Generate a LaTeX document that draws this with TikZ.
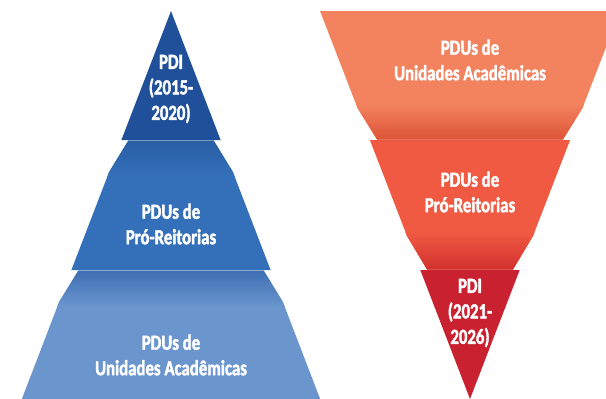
\documentclass[tikz,border=0pt]{standalone}
\usepackage{fontspec}
\setmainfont{Carlito}[FakeStretch=0.78, BoldFeatures={FakeBold=1.8}]
\definecolor{bTop}{HTML}{1F5099}
\definecolor{bMid}{HTML}{3470B9}
\definecolor{bMidDark}{HTML}{295DA4}
\definecolor{bLow}{HTML}{6A95CD}
\definecolor{bLowDark}{HTML}{3E6EB3}
\definecolor{rTop}{HTML}{F3825F}
\definecolor{rTopDark}{HTML}{DC5436}
\definecolor{rMid}{HTML}{F05A42}
\definecolor{rMidDark}{HTML}{D2302E}
\definecolor{rLow}{HTML}{C92130}
\begin{document}
\begin{tikzpicture}[x=1pt,y=-1pt,
  lbl/.style={text=white, font=\fontsize{21.5}{25.5}\selectfont\bfseries, align=center, inner sep=0pt}]
\useasboundingbox (0,0) rectangle (606,399);
\clip (0,0) rectangle (606,399);

% ---------- left pyramid ----------
% top triangle
\fill[bTop] (171,11) -- (220.6,140) -- (121.4,140) -- cycle;
% middle trapezoid
\def\pmid{(128.4,140.5) -- (213.6,140.5) -- (232.9,172) -- (270.6,270) -- (71.4,270) -- (109.1,172) -- cycle}
\fill[bMid] \pmid;
\begin{scope}
  \clip \pmid;
  \shade[top color=bMidDark, bottom color=bMid] (60,140) rectangle (290,176);
\end{scope}
% bottom trapezoid
\def\plow{(78.4,270.5) -- (263.6,270.5) -- (282.9,302) -- (321.3,402) -- (20.7,402) -- (59.1,302) -- cycle}
\fill[bLow] \plow;
\begin{scope}
  \clip \plow;
  \shade[top color=bLowDark, bottom color=bLow] (10,270) rectangle (330,306);
\end{scope}

% ---------- right funnel ----------
\def\ftop{(320,11) -- (620,11) -- (582.5,108) -- (563,139.5) -- (377,139.5) -- (357.5,108) -- cycle}
\fill[rTop] \ftop;
\begin{scope}
  \clip \ftop;
  \shade[top color=rTop, bottom color=rTopDark] (300,104) rectangle (620,140);
\end{scope}
\def\fmid{(369.9,140) -- (570.1,140) -- (533,236) -- (513,269.5) -- (427,269.5) -- (407,236) -- cycle}
\fill[rMid] \fmid;
\begin{scope}
  \clip \fmid;
  \shade[top color=rMid, bottom color=rMidDark] (360,232) rectangle (580,270);
\end{scope}
\fill[rLow] (420.3,270) -- (519.7,270) -- (470,399) -- cycle;

% ---------- labels ----------
\node[lbl] (pdiA) at (171,89) {PDI\\(2015-\\2020)};
\node[lbl] (proA) at (171,224) {PDUs de\\Pró-Reitorias};
\node[lbl] (uniA) at (171,355) {PDUs de\\Unidades Acadêmicas};
\node[lbl] (uniB) at (470,60) {PDUs de\\Unidades Acadêmicas};
\node[lbl] (proB) at (470,192) {PDUs de\\Pró-Reitorias};
\node[lbl] (pdiB) at (470,313) {PDI\\(2021-\\2026)};
\end{tikzpicture}
\end{document}
